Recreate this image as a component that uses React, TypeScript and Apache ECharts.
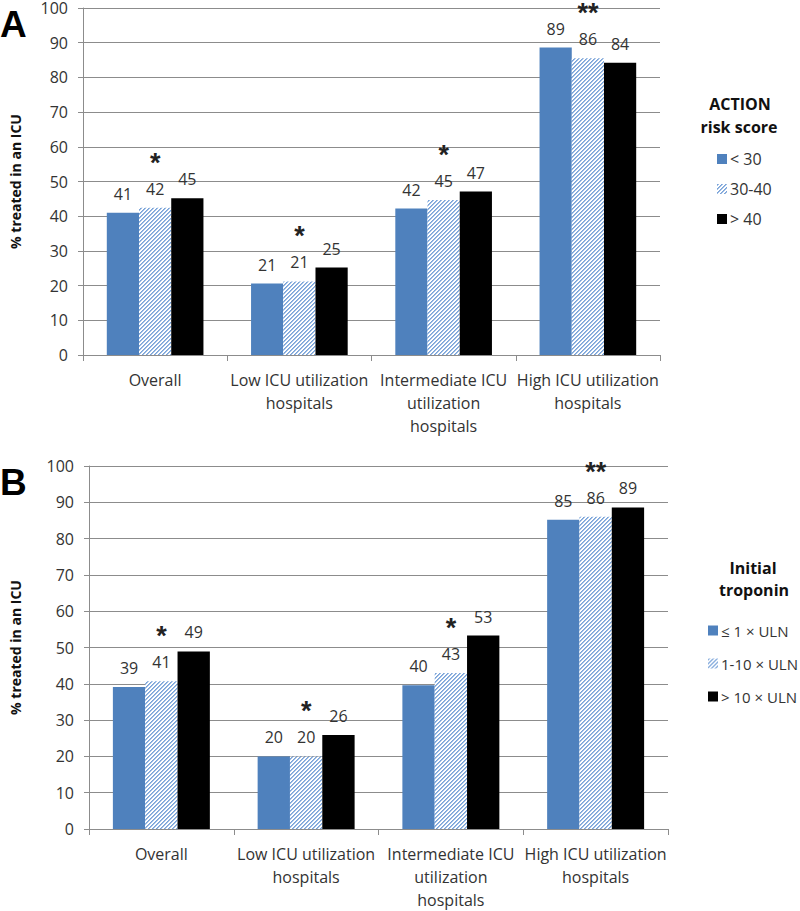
import React, { useEffect, useRef } from "react";
import * as echarts from "echarts";

const categories = [
  "Overall",
  "Low ICU utilization\nhospitals",
  "Intermediate ICU\nutilization\nhospitals",
  "High ICU utilization\nhospitals",
];

const riskNames = ["< 30", "30-40", "> 40"];
const riskLow = [41.0, 20.6, 42.2, 88.6];
const riskMid = [42.4, 21.2, 44.7, 85.5];
const riskHigh = [45.2, 25.2, 47.1, 84.2];

const tropNames = ["≤ 1 × ULN", "1-10 × ULN", "> 10 × ULN"];
const tropLow = [39.1, 20.0, 39.6, 85.2];
const tropMid = [40.7, 20.0, 43.0, 86.0];
const tropHigh = [48.9, 25.9, 53.3, 88.6];

const stars = ["*", "*", "*", "**"];

const FONT = "Open Sans";
const BLUE = "#4f81bd";
const TEXT = "#333333";
const GRID = "#8c8c8c";

function makeHatch() {
  const c = document.createElement("canvas");
  c.width = 4;
  c.height = 4;
  const g = c.getContext("2d")!;
  for (let x = 0; x < 4; x++) {
    for (let y = 0; y < 4; y++) {
      const k = (x + y) % 4;
      g.fillStyle = k === 0 ? "#7aa3d8" : k === 1 ? "#9dbce4" : "#ffffff";
      g.fillRect(x, y, 1, 1);
    }
  }
  return { image: c, repeat: "repeat" as const };
}

export default function App() {
  const ref = useRef<HTMLDivElement>(null);
  useEffect(() => {
    if (!ref.current) return;
    const chart = echarts.init(ref.current, null, { renderer: "svg" });
    const hatch = makeHatch();

    const plainLabel = {
      show: true,
      position: "top" as const,
      distance: 9,
      fontFamily: FONT,
      fontSize: 16,
      lineHeight: 20,
      color: TEXT,
      formatter: (p: any) => String(Math.round(p.value)),
    };
    const starLabel = {
      show: true,
      position: "top" as const,
      distance: 9,
      fontFamily: FONT,
      color: TEXT,
      formatter: (p: any) => `{s|${stars[p.dataIndex]}}\n{g| }\n{v|${Math.round(p.value)}}`,
      rich: {
        s: { fontFamily: "Liberation Sans", fontSize: 27, fontWeight: "bold", lineHeight: 18, color: "#222" },
        g: { fontSize: 6, lineHeight: 7 },
        v: { fontFamily: FONT, fontSize: 16, lineHeight: 20, color: TEXT },
      },
    };

    const mk = (name: string, data: number[], idx: number, color: any, mid: boolean) => ({
      type: "bar",
      name,
      data,
      xAxisIndex: idx,
      yAxisIndex: idx,
      barGap: "0%",
      barCategoryGap: "33%",
      itemStyle: { color },
      label: mid ? starLabel : plainLabel,
    });

    const xAxis = (gridIndex: number) => ({
      type: "category",
      gridIndex,
      data: categories,
      axisLine: { lineStyle: { color: GRID } },
      axisTick: { show: true, length: 6, lineStyle: { color: GRID } },
      axisLabel: { interval: 0, fontFamily: FONT, fontSize: 16, lineHeight: 23, color: TEXT, margin: 13 },
    });
    const yAxis = (gridIndex: number, gap: number) => ({
      type: "value",
      gridIndex,
      min: 0,
      max: 100,
      interval: 10,
      name: "% treated in an ICU",
      nameLocation: "middle",
      nameRotate: 90,
      nameGap: gap,
      nameTextStyle: { fontFamily: FONT, fontSize: 14, fontWeight: "bold", color: "#111" },
      axisLine: { show: true, lineStyle: { color: GRID } },
      axisTick: { show: true, length: 5, lineStyle: { color: GRID } },
      splitLine: { lineStyle: { color: GRID } },
      axisLabel: { fontFamily: FONT, fontSize: 16, color: TEXT, margin: 15 },
    });

    const legend = (names: string[], left: number, top: number, gap: number, fs: number) => ({
      data: names,
      orient: "vertical",
      left,
      top,
      itemWidth: 10,
      itemHeight: 10,
      itemGap: gap,
      icon: "rect",
      textStyle: { fontFamily: FONT, fontSize: fs, color: TEXT, padding: [0, 0, 0, -2] },
      selectedMode: false,
    });

    const titleText = (text: string, x: number, y: number) => ({
      type: "text",
      x,
      y,
      style: {
        text,
        fontFamily: FONT,
        fontSize: 16,
        fontWeight: "bold",
        fill: "#111",
        align: "center",
        verticalAlign: "middle",
      },
    });

    chart.setOption({
      animation: false,
      backgroundColor: "#ffffff",
      grid: [
        { left: 77, top: 6, width: 583, height: 349 },
        { left: 83, top: 466, width: 585, height: 366 },
      ],
      xAxis: [xAxis(0), xAxis(1)],
      yAxis: [yAxis(0, 61), yAxis(1, 67)],
      legend: [legend(riskNames, 712, 146, 14, 16), legend(tropNames, 703, 618, 18, 15)],
      series: [
        mk(riskNames[0], riskLow, 0, BLUE, false),
        mk(riskNames[1], riskMid, 0, hatch, true),
        mk(riskNames[2], riskHigh, 0, "#000000", false),
        mk(tropNames[0], tropLow, 1, BLUE, false),
        mk(tropNames[1], tropMid, 1, hatch, true),
        mk(tropNames[2], tropHigh, 1, "#000000", false),
      ],
      graphic: [
        { type: "text", x: 0, y: 24, style: { text: "A", fontFamily: "Liberation Sans", fontSize: 37, fontWeight: "bold", fill: "#000", verticalAlign: "middle" } },
        { type: "text", x: 0, y: 482, style: { text: "B", fontFamily: "Liberation Sans", fontSize: 37, fontWeight: "bold", fill: "#000", verticalAlign: "middle" } },
        titleText("ACTION", 740, 104),
        titleText("risk score", 739, 127),
        titleText("Initial", 753, 568),
        titleText("troponin", 754, 590),
      ],
    });
    return () => chart.dispose();
  }, []);
  return <div ref={ref} style={{ position: "fixed", left: 0, top: 0, width: 800, height: 911 }} />;
}
